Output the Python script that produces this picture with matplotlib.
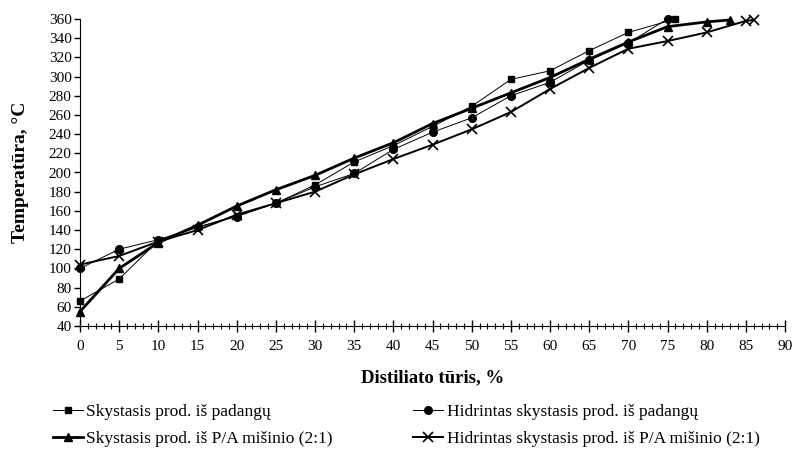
import matplotlib
matplotlib.use("Agg")
import matplotlib.pyplot as plt
from matplotlib.ticker import MultipleLocator

plt.rcParams['font.family'] = ['Liberation Serif', 'DejaVu Serif']

# distillation curves: volume distilled (%) vs temperature (°C)
x_sq = [0, 5, 10, 15, 20, 25, 30, 35, 40, 45, 50, 55, 60, 65, 70, 76]
t_sq = [66, 89, 129, 143, 155, 168, 187, 211, 228, 248, 269, 297, 306, 327, 346, 360]

x_ci = [0, 5, 10, 15, 20, 25, 30, 35, 40, 45, 50, 55, 60, 65, 70, 75]
t_ci = [100, 120, 130, 143, 154, 168, 185, 199, 224, 242, 257, 280, 294, 317, 335, 360]

x_tr = [0, 5, 10, 15, 20, 25, 30, 35, 40, 45, 50, 55, 60, 65, 70, 75, 80, 83]
t_tr = [55, 100, 127, 145, 165, 182, 197, 215, 231, 251, 267, 283, 299, 318, 336, 352, 357, 359]

x_xx = [0, 5, 10, 15, 20, 25, 30, 35, 40, 45, 50, 55, 60, 65, 70, 75, 80, 85, 86]
t_xx = [104, 113, 128, 140, 156, 168, 180, 198, 214, 229, 245, 263, 287, 309, 329, 337, 346, 358, 359]

labels = ['Skystasis prod. iš padangų',
          'Hidrintas skystasis prod. iš padangų',
          'Skystasis prod. iš P/A mišinio (2:1)',
          'Hidrintas skystasis prod. iš P/A mišinio (2:1)']

fig = plt.figure(figsize=(7.97, 4.5), dpi=100)
ax = fig.add_axes([80 / 797, 1 - 326 / 450, 705 / 797, 307 / 450])

l_sq, = ax.plot(x_sq, t_sq, color='black', lw=0.7, marker='s', ms=4.5, label=labels[0], clip_on=False)
l_ci, = ax.plot(x_ci, t_ci, color='black', lw=0.7, marker='o', ms=5.5, label=labels[1], clip_on=False)
l_tr, = ax.plot(x_tr, t_tr, color='black', lw=2.0, marker='^', ms=5.5, label=labels[2], clip_on=False)
l_xx, = ax.plot(x_xx, t_xx, color='black', lw=1.4, marker='x', ms=7, mew=1.2, label=labels[3], clip_on=False)

ax.set_xlim(0, 90)
ax.set_ylim(40, 360)
ax.xaxis.set_major_locator(MultipleLocator(5))
ax.xaxis.set_minor_locator(MultipleLocator(1))
ax.yaxis.set_major_locator(MultipleLocator(20))

ax.spines['top'].set_visible(False)
ax.spines['right'].set_visible(False)

ax.tick_params(axis='x', which='major', direction='inout', length=8, width=1, labelsize=11, pad=6)
ax.tick_params(axis='x', which='minor', direction='inout', length=5, width=0.8)
ax.tick_params(axis='y', which='major', direction='out', length=4, width=1, labelsize=11, pad=2)

ax.set_xlabel('Distiliato tūris, %', fontsize=13.5, fontweight='bold', labelpad=12)
ax.set_ylabel('Temperatūra, °C', fontsize=14, fontweight='bold', labelpad=14)

# legend filled column-wise: first row padangų, second row P/A
handles = [l_sq, l_tr, l_ci, l_xx]
fig.legend(handles, [h.get_label() for h in handles],
           loc='upper left', bbox_to_anchor=(0.066, 0.103),
           ncol=2, frameon=False, fontsize=12.5, borderpad=0, borderaxespad=0,
           handlelength=1.75, handletextpad=0.2, columnspacing=4.6, labelspacing=0.65)

fig.savefig('out.png', dpi=100)
